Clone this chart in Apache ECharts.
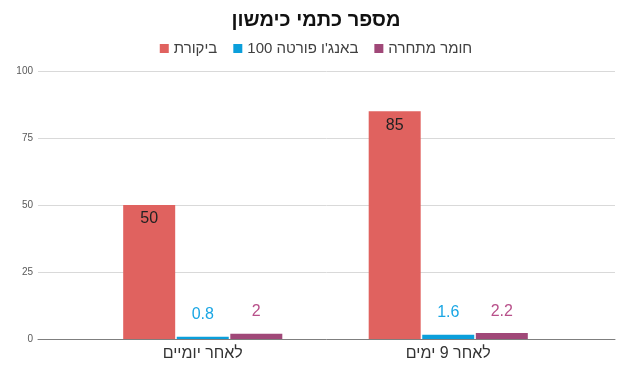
<!DOCTYPE html>
<html><head><meta charset="utf-8">
<script src="https://cdn.jsdelivr.net/npm/echarts@6/dist/echarts.min.js"></script>
<style>html,body{margin:0;padding:0;background:#fff}#c{width:632px;height:370px}</style>
</head><body><div id="c"></div>
<script>
const categories = ['לאחר יומיים', 'לאחר 9 ימים'];
const seriesNames = ['ביקורת', "באנג'ו פורטה 100", 'חומר מתחרה'];
const control = [50, 85];
const banjo = [0.8, 1.6];
const competitor = [2, 2.2];
const yTicks = [0, 25, 50, 75, 100];

const colors = ['#E0625F', '#0B9FDB', '#A04878'];
const labelColors = ['#222222', '#1AA6E4', '#B8508A'];
const font = "'Liberation Sans','DejaVu Sans',sans-serif";

const chart = echarts.init(document.getElementById('c'));
const values = [control, banjo, competitor];
chart.setOption({
  animation: false,
  title: {
    text: 'מספר כתמי כימשון', left: 'center', top: 5,
    textStyle: { fontFamily: font, fontSize: 20, fontWeight: 'bold', color: '#111' }
  },
  legend: {
    top: 36, left: 'center', itemWidth: 9, itemHeight: 9, itemGap: 16, icon: 'rect',
    textStyle: { fontFamily: font, fontSize: 15, color: '#404040' },
    data: seriesNames
  },
  grid: [
    { left: 38, right: 17, top: 71, bottom: 31 },
    { left: 80, right: 61, top: 71, bottom: 31 }
  ],
  xAxis: [
    { type: 'category', gridIndex: 0, data: [''], axisTick: { show: false }, axisLabel: { show: false },
      axisLine: { lineStyle: { color: '#7f7f7f', width: 1 } } },
    { type: 'category', gridIndex: 1, data: categories, axisTick: { show: false }, axisLine: { show: false },
      axisLabel: { fontFamily: font, fontSize: 16, color: '#333', margin: 7 } }
  ],
  yAxis: [
    { type: 'value', gridIndex: 0, min: yTicks[0], max: yTicks[yTicks.length - 1], interval: 25,
      axisLabel: { fontFamily: font, fontSize: 10, color: '#595959', margin: 5 },
      axisLine: { show: false }, axisTick: { show: false },
      splitLine: { lineStyle: { color: '#d9d9d9' } } },
    { type: 'value', gridIndex: 1, min: 0, max: 100, interval: 25, show: false, splitLine: { show: false } }
  ],
  series: seriesNames.map((n, i) => ({
    name: n, type: 'bar', xAxisIndex: 1, yAxisIndex: 1, data: values[i],
    barWidth: 52, barGap: '3%',
    itemStyle: { color: colors[i] },
    label: {
      show: true,
      position: i === 0 ? 'insideTop' : 'top',
      distance: i === 0 ? 6 : 14,
      fontFamily: font, fontSize: 16, color: labelColors[i]
    }
  }))
});
</script></body></html>
